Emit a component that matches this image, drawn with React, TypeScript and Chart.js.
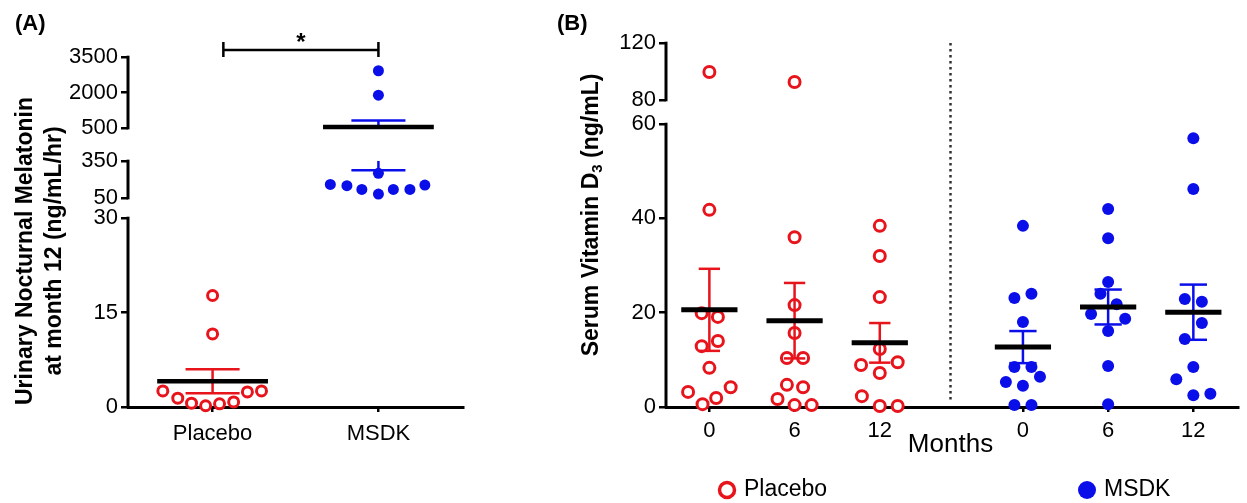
import React, { useEffect, useRef } from 'react';
import { Chart, registerables, LinearScale } from 'chart.js';

Chart.register(...registerables);

// ---------------- Data: panel (A) ----------------
const groupsA = ['Placebo', 'MSDK'];
const melatoninPlacebo = [17.7, 11.6, 2.55, 1.4, 0.6, 0.2, 0.5, 0.8, 2.4, 2.55];
const melatoninPlaceboSpread = [0, 0, -0.3, -0.21, -0.127, -0.042, 0.042, 0.127, 0.21, 0.295];
const melatoninMsdk = [2920, 1890, 250, 160, 150, 120, 82, 120, 120, 155];
const melatoninMsdkSpread = [0, 0, 0, -0.29, -0.19, -0.1, 0, 0.09, 0.19, 0.28];
const melatoninMean = [4.1, 545];
const melatoninSem = [1.9, 270];
const yTicksA = [0, 15, 30, 50, 350, 500, 2000, 3500];

// ---------------- Data: panel (B) ----------------
const monthLabels = ['0', '6', '12', '0', '6', '12'];
const d3Placebo0 = [99.6, 41.8, 19.9, 19.1, 14.0, 12.9, 8.3, 3.2, 0.6, 1.9, 4.2];
const d3Placebo0Spread = [0, 0, -0.09, 0.1, 0.1, -0.09, 0, -0.25, -0.08, 0.08, 0.25];
const d3Placebo6 = [92.6, 36.0, 21.6, 15.7, 10.4, 10.4, 4.7, 4.2, 1.7, 0.4, 0.4];
const d3Placebo6Spread = [0, 0, 0, 0, -0.09, 0.1, -0.09, 0.1, -0.2, 0, 0.2];
const d3Placebo12 = [38.4, 32.0, 23.3, 12.3, 8.9, 9.5, 7.2, 2.3, 0.2, 0.2];
const d3Placebo12Spread = [0, 0, 0, 0, -0.22, 0.21, 0, -0.21, 0, 0.21];
const d3Msdk0 = [38.4, 23.1, 24.0, 18.0, 8.5, 8.5, 5.3, 6.4, 4.5, 0.4, 0.4];
const d3Msdk0Spread = [0, -0.1, 0.1, 0, -0.1, 0.1, -0.2, 0.2, 0, -0.1, 0.1];
const d3Msdk6 = [42.0, 35.8, 26.5, 24.0, 21.8, 19.7, 18.7, 16.1, 8.7, 0.6];
const d3Msdk6Spread = [0, 0, 0, -0.09, 0.1, -0.2, 0.2, 0, 0, 0];
const d3Msdk12 = [57.0, 46.2, 22.9, 22.3, 17.8, 14.4, 8.5, 5.9, 2.5, 2.8];
const d3Msdk12Spread = [0, 0, -0.1, 0.1, 0.1, -0.1, 0, -0.2, 0, 0.2];
const d3PlaceboMean = [20.6, 18.3, 13.6];
const d3PlaceboSem = [8.7, 8.0, 4.2];
const d3MsdkMean = [12.7, 21.2, 20.1];
const d3MsdkSem = [3.4, 3.7, 5.85];
const yTicksB = [0, 20, 40, 60, 80, 120];

// ---------------- Layout / style ----------------
const FONT = '"Liberation Sans", Arial, Helvetica, sans-serif';
const RED = '#e8141c';
const BLUE = '#0a0ee8';

type Seg = { min: number; max: number; lo: number; hi: number };
// broken-axis segments (lo/hi = fraction of axis height from bottom)
const segsA: Seg[] = [
  { min: 0, max: 30, lo: 0, hi: 0.54 },
  { min: 50, max: 350, lo: 0.597, hi: 0.703 },
  { min: 500, max: 3500, lo: 0.797, hi: 1 },
];
const segsB: Seg[] = [
  { min: 0, max: 60, lo: 0, hi: 0.7775 },
  { min: 80, max: 120, lo: 0.8434, hi: 1 },
];
const posA = [1, 2];
const posB = [1, 2, 3, 4.68, 5.68, 6.68];
const dividerB = 3.83;

function valueToFrac(segs: Seg[], v: number) {
  for (let i = 0; i < segs.length; i++) {
    const s = segs[i];
    if (v <= s.max || i === segs.length - 1) {
      if (v >= s.min || i === 0) return s.lo + ((v - s.min) / (s.max - s.min)) * (s.hi - s.lo);
      const p = segs[i - 1];
      return p.hi + ((v - p.max) / (s.min - p.max)) * (s.lo - p.hi);
    }
  }
  return 0;
}
function fracToValue(segs: Seg[], f: number) {
  for (let i = 0; i < segs.length; i++) {
    const s = segs[i];
    if (f <= s.hi || i === segs.length - 1) {
      if (f >= s.lo || i === 0) return s.min + ((f - s.lo) / (s.hi - s.lo)) * (s.max - s.min);
      const p = segs[i - 1];
      return p.max + ((f - p.hi) / (s.lo - p.hi)) * (s.min - p.max);
    }
  }
  return 0;
}

function makeBrokenScale(scaleId: string, segs: Seg[]) {
  return class extends LinearScale {
    static id = scaleId;
    static defaults = {};
    getPixelForValue(value: any) {
      if (value === null || value === undefined || isNaN(value)) return NaN;
      const f = valueToFrac(segs, +value);
      return this.bottom - f * (this.bottom - this.top);
    }
    getValueForPixel(pixel: number) {
      return fracToValue(segs, (this.bottom - pixel) / (this.bottom - this.top));
    }
  };
}
const BrokenA = makeBrokenScale('brokenA', segsA);
const BrokenB = makeBrokenScale('brokenB', segsB);
Chart.register(BrokenA as any, BrokenB as any);

// ---------------- helpers ----------------
function inSegs(segs: Seg[], v: number) {
  return segs.some((s) => v >= s.min && v <= s.max);
}
function vSegLine(ctx: any, xs: any, ys: any, segs: Seg[], x: number, a: number, b: number) {
  const px = xs.getPixelForValue(x);
  for (const s of segs) {
    const lo = Math.max(a, s.min);
    const hi = Math.min(b, s.max);
    if (hi > lo) {
      ctx.beginPath();
      ctx.moveTo(px, ys.getPixelForValue(lo));
      ctx.lineTo(px, ys.getPixelForValue(hi));
      ctx.stroke();
    }
  }
}
function hLine(ctx: any, xs: any, ys: any, x: number, half: number, v: number) {
  const py = ys.getPixelForValue(v);
  ctx.beginPath();
  ctx.moveTo(xs.getPixelForValue(x - half), py);
  ctx.lineTo(xs.getPixelForValue(x + half), py);
  ctx.stroke();
}
function drawSummary(chart: any, segs: Seg[], items: any[], barW: number, meanW: number) {
  const { ctx } = chart;
  const xs = chart.scales.x;
  const ys = chart.scales.y;
  ctx.save();
  ctx.lineCap = 'butt';
  for (const it of items) {
    ctx.strokeStyle = it.color;
    ctx.lineWidth = barW;
    const lo = it.mean - it.sem;
    const hi = it.mean + it.sem;
    vSegLine(ctx, xs, ys, segs, it.x, lo, hi);
    if (inSegs(segs, lo)) hLine(ctx, xs, ys, it.x, it.cap, lo);
    if (inSegs(segs, hi)) hLine(ctx, xs, ys, it.x, it.cap, hi);
  }
  for (const it of items) {
    ctx.strokeStyle = '#000';
    ctx.lineWidth = meanW;
    hLine(ctx, xs, ys, it.x, it.half, it.mean);
  }
  ctx.restore();
}
function drawBrokenAxis(chart: any, segs: Seg[]) {
  const { ctx, chartArea } = chart;
  const ys = chart.scales.y;
  ctx.save();
  ctx.strokeStyle = '#000';
  ctx.lineWidth = 3;
  for (const s of segs) {
    ctx.beginPath();
    ctx.moveTo(chartArea.left, ys.getPixelForValue(s.min) + 1.3);
    ctx.lineTo(chartArea.left, ys.getPixelForValue(s.max) - 1.3);
    ctx.stroke();
  }
  ctx.restore();
}
function rotatedText(ctx: any, parts: { t: string; size: number; dy: number }[], x: number, y: number) {
  ctx.save();
  ctx.translate(x, y);
  ctx.rotate(-Math.PI / 2);
  ctx.textBaseline = 'middle';
  ctx.textAlign = 'left';
  ctx.fillStyle = '#000';
  let total = 0;
  for (const p of parts) {
    ctx.font = `bold ${p.size}px ${FONT}`;
    total += ctx.measureText(p.t).width;
  }
  let cx = -total / 2;
  for (const p of parts) {
    ctx.font = `bold ${p.size}px ${FONT}`;
    ctx.fillText(p.t, cx, p.dy);
    cx += ctx.measureText(p.t).width;
  }
  ctx.restore();
}

function xAxis(min: number, max: number, ticks: number[], labels: string[], pad: number) {
  return {
    type: 'linear',
    position: 'bottom',
    min,
    max,
    afterBuildTicks: (s: any) => {
      s.ticks = ticks.map((v) => ({ value: v }));
    },
    afterFit: (s: any) => {
      s.height = 96;
    },
    ticks: {
      autoSkip: false,
      maxRotation: 0,
      padding: pad,
      color: '#000',
      font: { size: 22, family: FONT },
      callback: (_v: any, i: number) => labels[i],
    },
    grid: { display: true, drawOnChartArea: false, drawTicks: true, tickLength: 5, color: '#000', lineWidth: 2.5 },
    border: { display: true, color: '#000', width: 3 },
  };
}
function yAxis(type: string, min: number, max: number, ticks: number[], width: number) {
  return {
    type,
    position: 'left',
    min,
    max,
    afterBuildTicks: (s: any) => {
      s.ticks = ticks.map((v) => ({ value: v }));
    },
    afterFit: (s: any) => {
      s.width = width;
    },
    ticks: {
      autoSkip: false,
      padding: 3,
      color: '#000',
      font: { size: 22, family: FONT },
      callback: (v: any) => String(v),
    },
    grid: { display: true, drawOnChartArea: false, drawTicks: true, tickLength: 7, color: '#000', lineWidth: 2.5 },
    border: { display: false },
  };
}

function configA(): any {
  const pts = (vals: number[], spread: number[], x: number) => vals.map((v, i) => ({ x: x + spread[i], y: v }));
  const decor = {
    id: 'decorA',
    afterDatasetsDraw(chart: any) {
      drawSummary(
        chart,
        segsA,
        [
          { x: posA[0], mean: melatoninMean[0], sem: melatoninSem[0], color: RED, cap: 0.163, half: 0.334 },
          { x: posA[1], mean: melatoninMean[1], sem: melatoninSem[1], color: BLUE, cap: 0.163, half: 0.334 },
        ],
        2.5,
        4.5
      );
    },
    afterDraw(chart: any) {
      const { ctx, chartArea } = chart;
      const xs = chart.scales.x;
      drawBrokenAxis(chart, segsA);
      ctx.save();
      ctx.fillStyle = '#000';
      ctx.font = `bold 22px ${FONT}`;
      ctx.textAlign = 'left';
      ctx.textBaseline = 'middle';
      ctx.fillText('(A)', 15, 24);
      // significance bracket
      const by = chartArea.top - 7;
      const x1 = xs.getPixelForValue(posA[0] + 0.065);
      const x2 = xs.getPixelForValue(posA[1]);
      ctx.strokeStyle = '#000';
      ctx.lineWidth = 2.5;
      ctx.beginPath();
      ctx.moveTo(x1, by);
      ctx.lineTo(x2, by);
      ctx.moveTo(x1, by - 8);
      ctx.lineTo(x1, by + 7);
      ctx.moveTo(x2, by - 8);
      ctx.lineTo(x2, by + 7);
      ctx.stroke();
      ctx.font = `bold 24px ${FONT}`;
      ctx.textAlign = 'center';
      ctx.textBaseline = 'alphabetic';
      ctx.fillText('*', (x1 + x2) / 2, by);
      ctx.restore();
      rotatedText(ctx, [{ t: 'Urinary Nocturnal Melatonin', size: 23, dy: 0 }], 26, 251);
      rotatedText(ctx, [{ t: 'at month 12 (ng/mL/hr)', size: 23, dy: 0 }], 55, 251);
    },
  };
  return {
    type: 'scatter',
    data: {
      datasets: [
        {
          label: groupsA[0],
          data: pts(melatoninPlacebo, melatoninPlaceboSpread, posA[0]),
          pointRadius: 5,
          pointBorderWidth: 3,
          pointBackgroundColor: '#fff',
          pointBorderColor: RED,
          clip: false,
        },
        {
          label: groupsA[1],
          data: pts(melatoninMsdk, melatoninMsdkSpread, posA[1]),
          pointRadius: 5.5,
          pointBorderWidth: 0,
          pointBackgroundColor: BLUE,
          pointBorderColor: BLUE,
          clip: false,
        },
      ],
    },
    options: {
      animation: false,
      responsive: false,
      maintainAspectRatio: false,
      layout: { padding: { left: 0, right: 77, top: 57, bottom: 0 } },
      plugins: { legend: { display: false }, tooltip: { enabled: false } },
      scales: {
        x: xAxis(0.49, 2.51, posA, groupsA, 9),
        y: yAxis('brokenA', 0, 3500, yTicksA, 128),
      },
    },
    plugins: [decor],
  };
}

function configB(): any {
  const placeboGroups = [d3Placebo0, d3Placebo6, d3Placebo12];
  const placeboSpread = [d3Placebo0Spread, d3Placebo6Spread, d3Placebo12Spread];
  const msdkGroups = [d3Msdk0, d3Msdk6, d3Msdk12];
  const msdkSpread = [d3Msdk0Spread, d3Msdk6Spread, d3Msdk12Spread];
  const placeboPts = placeboGroups.flatMap((vals, g) => vals.map((v, i) => ({ x: posB[g] + placeboSpread[g][i], y: v })));
  const msdkPts = msdkGroups.flatMap((vals, g) => vals.map((v, i) => ({ x: posB[g + 3] + msdkSpread[g][i], y: v })));
  const decor = {
    id: 'decorB',
    beforeDatasetsDraw(chart: any) {
      const { ctx, chartArea } = chart;
      const xs = chart.scales.x;
      const ys = chart.scales.y;
      const px = xs.getPixelForValue(dividerB);
      ctx.save();
      ctx.strokeStyle = '#333';
      ctx.lineWidth = 2.5;
      ctx.setLineDash([2.5, 3.5]);
      ctx.beginPath();
      ctx.moveTo(px, chartArea.top);
      ctx.lineTo(px, ys.getPixelForValue(1.5));
      ctx.stroke();
      ctx.restore();
    },
    afterDatasetsDraw(chart: any) {
      const items: any[] = [];
      for (let g = 0; g < 3; g++) {
        items.push({ x: posB[g], mean: d3PlaceboMean[g], sem: d3PlaceboSem[g], color: RED, cap: 0.125, half: 0.33 });
        items.push({ x: posB[g + 3], mean: d3MsdkMean[g], sem: d3MsdkSem[g], color: BLUE, cap: 0.16, half: 0.33 });
      }
      drawSummary(chart, segsB, items, 2.5, 5);
    },
    afterDraw(chart: any) {
      const { ctx } = chart;
      const xs = chart.scales.x;
      drawBrokenAxis(chart, segsB);
      ctx.save();
      ctx.fillStyle = '#000';
      ctx.font = `bold 22px ${FONT}`;
      ctx.textAlign = 'left';
      ctx.textBaseline = 'middle';
      ctx.fillText('(B)', 17, 24);
      // Months label
      ctx.font = `26px ${FONT}`;
      ctx.textAlign = 'center';
      ctx.fillText('Months', xs.getPixelForValue(dividerB), 445);
      // legend
      const ly = 490;
      ctx.font = `23px ${FONT}`;
      ctx.textAlign = 'left';
      const ds = chart.data.datasets;
      ctx.beginPath();
      ctx.arc(187, ly, 7.5, 0, Math.PI * 2);
      ctx.fillStyle = '#fff';
      ctx.fill();
      ctx.strokeStyle = RED;
      ctx.lineWidth = 3.5;
      ctx.stroke();
      ctx.fillStyle = '#000';
      ctx.fillText(ds[0].label, 204, ly);
      ctx.beginPath();
      ctx.arc(547, ly, 9, 0, Math.PI * 2);
      ctx.fillStyle = BLUE;
      ctx.fill();
      ctx.fillStyle = '#000';
      ctx.fillText(ds[1].label, 564, ly);
      ctx.restore();
      rotatedText(
        ctx,
        [
          { t: 'Serum Vitamin D', size: 23, dy: 0 },
          { t: '3', size: 15, dy: 6 },
          { t: ' (ng/mL)', size: 23, dy: 0 },
        ],
        52,
        215
      );
    },
  };
  return {
    type: 'scatter',
    data: {
      datasets: [
        {
          label: 'Placebo',
          data: placeboPts,
          pointRadius: 5.5,
          pointBorderWidth: 3,
          pointBackgroundColor: '#fff',
          pointBorderColor: RED,
          clip: false,
        },
        {
          label: 'MSDK',
          data: msdkPts,
          pointRadius: 6,
          pointBorderWidth: 0,
          pointBackgroundColor: BLUE,
          pointBorderColor: BLUE,
          clip: false,
        },
      ],
    },
    options: {
      animation: false,
      responsive: false,
      maintainAspectRatio: false,
      layout: { padding: { left: 0, right: 0, top: 43, bottom: 0 } },
      plugins: { legend: { display: false }, tooltip: { enabled: false } },
      scales: {
        x: xAxis(0.491, 7.21, posB, monthLabels, 6),
        y: yAxis('brokenB', 0, 120, yTicksB, 126),
      },
    },
    plugins: [decor],
  };
}

export default function App() {
  const refA = useRef<HTMLCanvasElement>(null);
  const refB = useRef<HTMLCanvasElement>(null);
  useEffect(() => {
    const a = new Chart(refA.current as HTMLCanvasElement, configA());
    const b = new Chart(refB.current as HTMLCanvasElement, configB());
    return () => {
      a.destroy();
      b.destroy();
    };
  }, []);
  return (
    <div style={{ position: 'fixed', left: 0, top: 0, width: 1247, height: 503, background: '#fff' }}>
      <canvas ref={refA} width={540} height={503} style={{ position: 'absolute', left: 0, top: 0, width: 540, height: 503 }} />
      <canvas ref={refB} width={707} height={503} style={{ position: 'absolute', left: 540, top: 0, width: 707, height: 503 }} />
    </div>
  );
}
